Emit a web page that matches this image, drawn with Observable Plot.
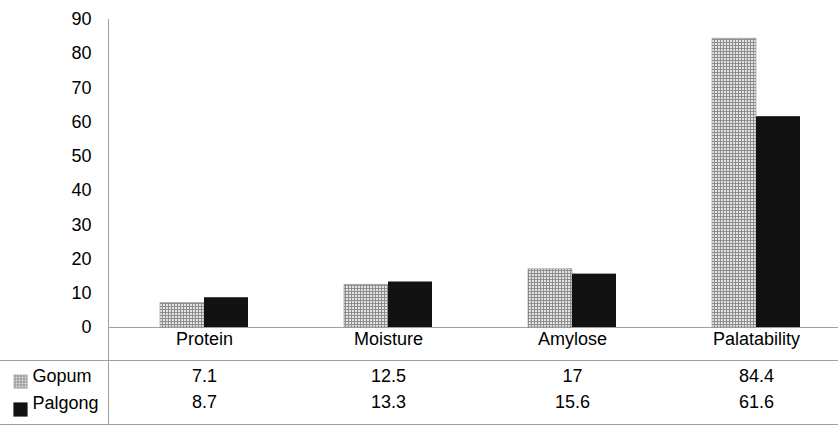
<!DOCTYPE html>
<html><head><meta charset="utf-8">
<script src="https://cdn.jsdelivr.net/npm/d3@7"></script>
<script src="https://cdn.jsdelivr.net/npm/@observablehq/plot@0.6"></script>
<style>body{margin:0;background:#fff}</style>
</head><body><div id="chart"></div>
<script>
const categories = ["Protein", "Moisture", "Amylose", "Palatability"];
const seriesNames = ["Gopum", "Palgong"];
const gopum = [7.1, 12.5, 17, 84.4];
const palgong = [8.7, 13.3, 15.6, 61.6];
const yTicks = [0, 10, 20, 30, 40, 50, 60, 70, 80, 90];

const gData = categories.map((c, i) => ({category: c, series: seriesNames[0], value: gopum[i]}));
const pData = categories.map((c, i) => ({category: c, series: seriesNames[1], value: palgong[i]}));

const grayFill = "url(#dots)";
const blackFill = "#121212";
const lineColor = "#a0a0a0";

const svg = Plot.plot({
  width: 838,
  height: 425,
  marginLeft: 108,
  marginRight: 0,
  marginTop: 19,
  marginBottom: 98,
  style: {fontFamily: "Liberation Sans, Arial, sans-serif", fontSize: "18px", color: "#000", background: "#fff"},
  x: {domain: categories, range: [109.5, 849.5], paddingInner: 0.5243, paddingOuter: 0.2622, axis: null},
  y: {domain: [0, 90], axis: null},
  marks: [
    Plot.frame({anchor: "left", stroke: lineColor, insetBottom: -98}),
    Plot.ruleY([0], {stroke: lineColor}),
    Plot.ruleY([0], {stroke: lineColor, dy: 33, insetLeft: -108}),
    Plot.ruleY([0], {stroke: lineColor, dy: 97, insetLeft: -108}),
    Plot.axisY({ticks: yTicks, tickSize: 0, tickPadding: 17, fontSize: 18, label: null}),
    Plot.barY(gData, {x: "category", y: "value", fill: grayFill, stroke: "#8a8a8a", strokeWidth: 0.6, insetRight: 44}),
    Plot.barY(pData, {x: "category", y: "value", fill: blackFill, insetLeft: 44}),
    Plot.text(categories, {x: d => d, frameAnchor: "bottom", dy: 17, fontSize: 18, fill: "#000"}),
    Plot.text(gData, {x: "category", text: d => String(d.value), frameAnchor: "bottom", dy: 54, fontSize: 18, fill: "#000"}),
    Plot.text(pData, {x: "category", text: d => String(d.value), frameAnchor: "bottom", dy: 80, fontSize: 18, fill: "#000"}),
    Plot.dot([seriesNames[0]], {frameAnchor: "bottom-left", dx: -88, dy: 54, symbol: "square", r: 8, fill: grayFill, stroke: "none"}),
    Plot.dot([seriesNames[1]], {frameAnchor: "bottom-left", dx: -88, dy: 82, symbol: "square", r: 8, fill: blackFill, stroke: "none"}),
    Plot.text([seriesNames[0]], {text: d => d, frameAnchor: "bottom-left", dx: -76, dy: 54, textAnchor: "start", fontSize: 18, fill: "#000"}),
    Plot.text([seriesNames[1]], {text: d => d, frameAnchor: "bottom-left", dx: -76, dy: 81, textAnchor: "start", fontSize: 18, fill: "#000"})
  ]
});

const ns = "http://www.w3.org/2000/svg";
const defs = document.createElementNS(ns, "defs");
defs.innerHTML = '<pattern id="dots" width="3" height="3" patternUnits="userSpaceOnUse"><rect width="3" height="3" fill="#e4e4e4"/><rect width="3" height="1" fill="#8e8e8e"/><rect width="1" height="3" fill="#8e8e8e"/></pattern>';
svg.insertBefore(defs, svg.firstChild);
document.getElementById("chart").appendChild(svg);
</script>
</body></html>
